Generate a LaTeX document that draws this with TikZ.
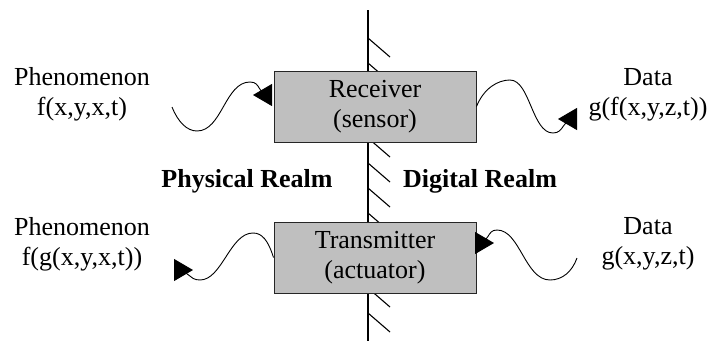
\documentclass[tikz,border=0pt]{standalone}
\usepackage{fontspec}
\setmainfont{Liberation Serif}
\usetikzlibrary{arrows.meta}

\begin{document}
\begin{tikzpicture}[x=1pt,y=-1pt]
\tikzstyle{every node}+=[inner sep=0pt,font=\fontsize{26}{30}\selectfont,align=center]
\tikzstyle{device}=[draw=black!85,line width=1pt,fill=black!25,minimum width=202pt,minimum height=71pt]
\tikzstyle{realm}=[anchor=base,font=\fontsize{26}{30}\selectfont\bfseries]
\tikzstyle{wave}=[black,line width=0.9pt,-{Triangle[length=19pt,width=22pt]}]
\useasboundingbox (0,0) rectangle (710,341);
\draw [black,line width=1.1pt] (368,10) -- (368,341);
\foreach \y in {38,63,...,313}
  \draw [black,line width=1.1pt] (368,\y) -- ++(22,19);
\node [device] (receiver) at (375,106.5) {Receiver\\(sensor)};
\node [device] (transmitter) at (375,257.5) {Transmitter\\(actuator)};
\node (phenIn) at (82,94) {Phenomenon\\f(x,y,x,t)};
\node (dataIn) at (648,95) {Data\\g(f(x,y,z,t))};
\node (phenOut) at (82,244) {Phenomenon\\f(g(x,y,x,t))};
\node (dataOut) at (648,244) {Data\\g(x,y,z,t)};
\node [realm] (physical) at (247,187) {Physical Realm};
\node [realm] (digital) at (480,187) {Digital Realm};
\coordinate (senseFrom) at (172,107);
\coordinate (senseTip) at (253,95);
\coordinate (readTip) at (558,119);
\coordinate (actTip) at (193,270);
\coordinate (cmdFrom) at (577,258);
\coordinate (cmdTip) at (494,243);
\draw [wave] (senseFrom) .. controls (178,122) and (187,131) .. (197,131)
  .. controls (222,131) and (225,82) .. (250,82)
  .. controls (262,82) and (256,95) .. (senseTip);
\draw [wave] (receiver.east) .. controls (484,88) and (498,80) .. (510,80)
  .. controls (530,80) and (532,133) .. (553,133)
  .. controls (565,133) and (561,119) .. (readTip);
\draw [wave] (transmitter.west) .. controls (268,240) and (262,233) .. (253,233)
  .. controls (230,233) and (222,280) .. (200,280)
  .. controls (188,280) and (190,270) .. (actTip);
\draw [wave] (cmdFrom) .. controls (572,272) and (562,280) .. (550,280)
  .. controls (525,280) and (520,230) .. (497,230)
  .. controls (486,230) and (491,243) .. (cmdTip);
\end{tikzpicture}
\end{document}
